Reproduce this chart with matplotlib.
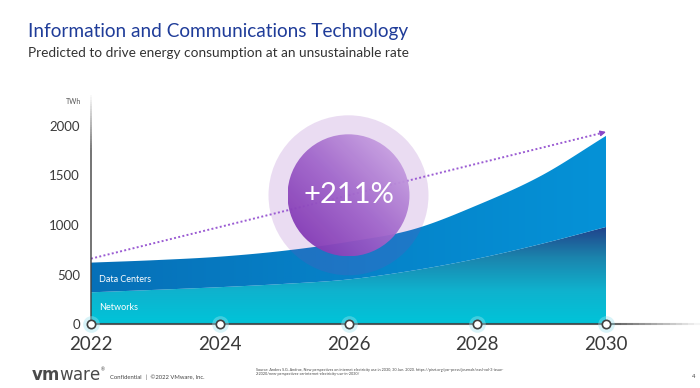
import matplotlib
matplotlib.use('Agg')
import matplotlib.pyplot as plt
import matplotlib.transforms as mtransforms
from matplotlib.colors import LinearSegmentedColormap, to_rgb
from matplotlib.collections import LineCollection
from matplotlib.patches import Circle, Polygon
import numpy as np

# data (TWh)
years = [2022, 2023, 2024, 2025, 2026, 2027, 2028, 2029, 2030]
networks = [320, 345, 372, 405, 450, 540, 660, 810, 980]
data_centers = [300, 300, 308, 335, 380, 415, 540, 690, 920]
trend_years = [2022, 2030]
trend_values = [660, 1940]
tick_years = [2022, 2024, 2026, 2028, 2030]
y_ticks = [0, 500, 1000, 1500, 2000]
growth_label = "+211%"

plt.rcParams['font.family'] = ['Lato', 'DejaVu Sans']


def smooth(xs, ys, n=24):
    # Catmull-Rom curve through the points, only used for drawing
    p = np.column_stack([xs, ys]).astype(float)
    p = np.vstack([2 * p[0] - p[1], p, 2 * p[-1] - p[-2]])
    t = np.linspace(0, 1, n, endpoint=False)[:, None]
    out = []
    for i in range(1, len(p) - 2):
        p0, p1, p2, p3 = p[i - 1], p[i], p[i + 1], p[i + 2]
        out.append(0.5 * (2 * p1 + (-p0 + p2) * t + (2 * p0 - 5 * p1 + 4 * p2 - p3) * t ** 2
                          + (-p0 + 3 * p1 - 3 * p2 + p3) * t ** 3))
    out.append(p[-2][None, :])
    out = np.vstack(out)
    return out[:, 0], out[:, 1]


fig = plt.figure(figsize=(7, 3.88), dpi=100)
ax = fig.add_axes([91 / 700, 1 - 324 / 388, 609 / 700, (324 - 95) / 388])

total = np.array(networks, dtype=float) + np.array(data_centers, dtype=float)
sx, s_net = smooth(years, networks)
_, s_tot = smooth(years, total)

xmin, xmax = 2022, 2022 + 609 / 64.375
ymin, ymax = 0, 2000 * (324 - 95) / 198

# networks layer: vertical gradient clipped to the area
net_poly = Polygon(np.column_stack([np.r_[sx, sx[::-1]], np.r_[s_net, np.zeros_like(s_net)]]),
                   closed=True, facecolor='none', edgecolor='none')
ax.add_patch(net_poly)
net_cmap = LinearSegmentedColormap.from_list(
    'net', ['#00C4D9', '#0FB2CE', '#1B84AD', '#213C88'])
grad = np.linspace(0, 1, 256).reshape(-1, 1)
im = ax.imshow(grad, cmap=net_cmap, extent=[2022, 2030, 0, 1000], origin='lower',
               aspect='auto', zorder=2)
im.set_clip_path(net_poly)

# data centers layer: horizontal gradient
dc_poly = Polygon(np.column_stack([np.r_[sx, sx[::-1]], np.r_[s_tot, s_net[::-1]]]),
                  closed=True, facecolor='none', edgecolor='none')
ax.add_patch(dc_poly)
dc_cmap = LinearSegmentedColormap.from_list('dc', ['#0670B8', '#0682C8', '#0592D7'])
im2 = ax.imshow(np.linspace(0, 1, 256).reshape(1, -1), cmap=dc_cmap,
                extent=[2022, 2030, 0, 2000], origin='lower', aspect='auto', zorder=2)
im2.set_clip_path(dc_poly)

ax.text(2022.13, (networks[0] + total[0]) / 2 - 20, "Data Centers", color='white',
        fontsize=6.5, va='center', zorder=5)
ax.text(2022.13, networks[0] / 2 + 10, "Networks", color='white',
        fontsize=6.5, va='center', zorder=5)

# dotted trend arrow
ax.plot(trend_years, trend_values, color='#9B5CD3', ls=(0, (1, 1.2)), lw=1.4, zorder=4)
dx = (trend_years[1] - trend_years[0]) * 0.01
dy = (trend_values[1] - trend_values[0]) * 0.01
ax.annotate('', xy=(trend_years[1], trend_values[1]),
            xytext=(trend_years[1] - dx, trend_values[1] - dy),
            arrowprops=dict(arrowstyle='-|>', color='#8A47C8', lw=1, mutation_scale=8),
            zorder=4)

# growth bubble
cx, cy = 2026, 1300
base = fig.dpi_scale_trans + mtransforms.ScaledTranslation(cx, cy, ax.transData)
ring = Circle((0, 0), 0.8, transform=base, facecolor='#8D41B9', edgecolor='none',
              alpha=0.18, zorder=3)
ax.add_patch(ring)
inner = Circle((0, 0), 0.61, transform=base, facecolor='none', edgecolor='none', zorder=6)
ax.add_patch(inner)
u = np.linspace(0, 1, 200)
uu, vv = np.meshgrid(u, u)
t = (uu + vv) / 2
c0 = np.array(to_rgb('#7A2BAE'))
c1 = np.array(to_rgb('#A166CB'))
c2 = np.array(to_rgb('#D4B4E8'))
rgb = np.where(t[..., None] < 0.5,
               c0 + (c1 - c0) * (t[..., None] / 0.5),
               c1 + (c2 - c1) * ((t[..., None] - 0.5) / 0.5))
im3 = ax.imshow(rgb, extent=[-0.61, 0.61, -0.61, 0.61], origin='lower',
                transform=base, zorder=6, alpha=0.95)
im3.set_clip_path(inner)
ax.text(cx, cy, growth_label, color='white', fontsize=21,
        ha='center', va='center', zorder=7)

ax.set_xlim(xmin, xmax)
ax.set_ylim(ymin, ymax)

# axis lines with fading ends
for s in ax.spines.values():
    s.set_visible(False)
n = 100
yy = np.linspace(0, 1, n + 1)
segs = [[(0, yy[i]), (0, yy[i + 1])] for i in range(n)]
alphas = np.clip((1 - yy[:-1]) / 0.25, 0, 1) * 0.85
lc = LineCollection(segs, colors=[(0.25, 0.25, 0.25, a) for a in alphas], lw=1.2,
                    transform=ax.transAxes, clip_on=False, zorder=6)
ax.add_collection(lc)
xx = np.linspace(0, 1, n + 1)
segs = [[(xx[i], 0), (xx[i + 1], 0)] for i in range(n)]
alphas = np.clip((1 - xx[:-1]) / 0.15, 0, 1) * 0.85
lc2 = LineCollection(segs, colors=[(0.25, 0.25, 0.25, a) for a in alphas], lw=1.5,
                     transform=ax.transAxes, clip_on=False, zorder=6)
ax.add_collection(lc2)

# tick markers with halo
ax.plot(tick_years, [0] * len(tick_years), 'o', ms=12, color='#9EE3EE', alpha=0.4,
        mec='none', clip_on=False, zorder=7)
ax.plot(tick_years, [0] * len(tick_years), 'o', ms=6, mfc='white', mec='#404040',
        mew=1.2, clip_on=False, zorder=8)

ax.set_xticks(tick_years)
ax.set_xticklabels([str(v) for v in tick_years], fontsize=13.5, color='#3A3A3A')
ax.set_yticks(y_ticks)
ax.set_yticklabels([str(v) for v in y_ticks], fontsize=9.5, color='#3A3A3A')
ax.tick_params(axis='x', length=0, pad=9)
ax.tick_params(axis='y', length=0, pad=8)
ax.text(-0.016, 0.973, "TWh", transform=ax.transAxes, fontsize=5, color='#555555',
        ha='right', va='center')

# slide header and footer
fig.text(28 / 700, 1 - 37 / 388, "Information and Communications Technology",
         fontsize=13.7, color='#1F3C99', va='baseline')
fig.text(28 / 700, 1 - 57 / 388,
         "Predicted to drive energy consumption at an unsustainable rate",
         fontsize=9.85, color='#333333', va='baseline')

fig.text(31 / 700, 1 - 380 / 388, r"$\mathbf{vm}$ware", fontsize=12,
         family='DejaVu Sans', color='#4A4A4A', va='baseline')
fig.text(101 / 700, 1 - 370 / 388, "\u00ae", fontsize=3.5, color='#4A4A4A', va='center')
fig.text(110 / 700, 1 - 377 / 388, "Confidential   |  \u00a92022 VMware, Inc.",
         fontsize=4.2, color='#444444', va='center')
fig.text(256 / 700, 1 - 372 / 388,
         "Source: Anders S.G. Andrae, New perspectives on internet electricity use in 2030, "
         "30 Jun. 2020. https://pisrt.org/psr-press/journals/easl-vol-3-issue-\n"
         "2-2020/new-perspectives-on-internet-electricity-use-in-2030/",
         fontsize=2.7, color='#444444', va='center', linespacing=1.3)
fig.text(692 / 700, 1 - 377 / 388, "4", fontsize=4.2, color='#444444', va='center')

fig.savefig('out.png', dpi=100)
